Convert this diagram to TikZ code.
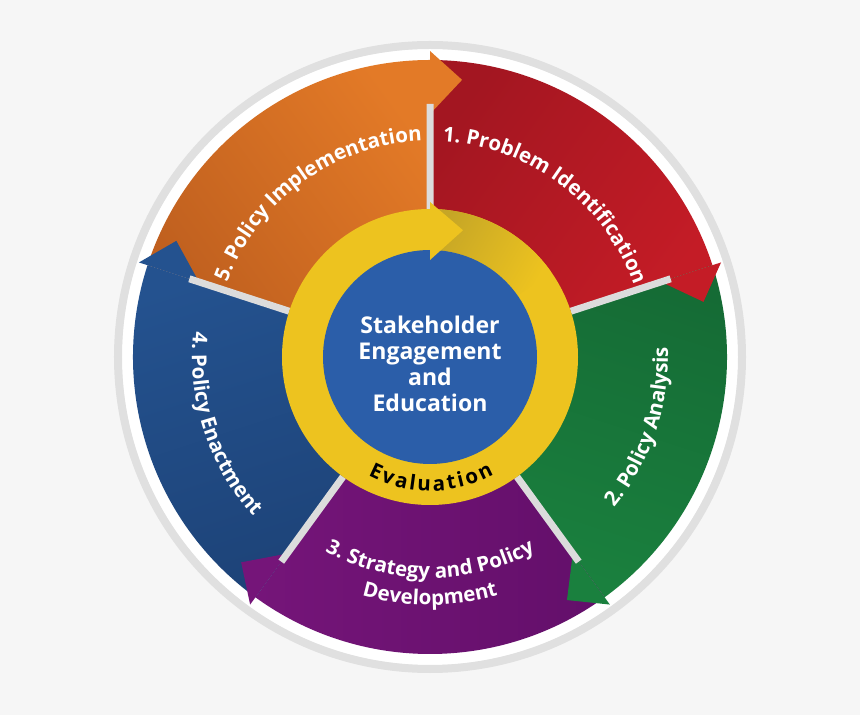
\documentclass[tikz,border=0pt]{standalone}
\usepackage{fontspec}
\setmainfont{Open Sans}
\usetikzlibrary{decorations.text}
\definecolor{bgc}{HTML}{F6F6F6}
\definecolor{ringc}{HTML}{E0E0E0}
\definecolor{sepc}{HTML}{DCDCDC}
\definecolor{orng}{HTML}{E37A27}
\definecolor{orngD}{HTML}{C0601F}
\definecolor{rd}{HTML}{C41C26}
\definecolor{rdD}{HTML}{A31621}
\definecolor{grn}{HTML}{1A803E}
\definecolor{grnD}{HTML}{156B35}
\definecolor{prp}{HTML}{751579}
\definecolor{prpD}{HTML}{630F6A}
\definecolor{blu}{HTML}{24528F}
\definecolor{bluD}{HTML}{1D4378}
\definecolor{ylw}{HTML}{EDC31F}
\definecolor{ylwD}{HTML}{C6A626}
\definecolor{ctrblu}{HTML}{2B5EA9}
\newcommand{\segfont}{\bfseries\fontsize{14.6}{17}\selectfont}
\newcommand{\evalfont}{\bfseries\fontsize{14.6}{16}\selectfont}
\begin{document}
\begin{tikzpicture}[x=0.025cm,y=0.025cm,line join=round,
	declare function={ri = 140; rw = 297; rs = 253; rh = 306; rk = 243; rt = 279; ry = 148; rb = 107;},
	lbl/.style={decorate,decoration={text along path,text align=center,text color=white,text={|\segfont|#1}}},
	ctrtxt/.style={align=center,text=white,font=\bfseries\fontsize{16.4}{18.6}\selectfont}]
	\useasboundingbox (-430,-358) rectangle (430,357);
	\fill[bgc] (-430,-358) rectangle (430,357);
	\fill[white] (0,0) circle[radius=308];
	\draw[ringc,line width=0.2cm] (0,0) circle[radius=312];
	% the five steps
	\shade[top color=orng,bottom color=orngD,shading angle=-54]
	(162:ri) arc[start angle=162,end angle=90,radius=ri] -- (90:rw) arc[start angle=90,end angle=162,radius=rw] -- cycle;
	\shade[top color=rd,bottom color=rdD,shading angle=-126]
	(90:ri) arc[start angle=90,end angle=18,radius=ri] -- (18:rw) arc[start angle=18,end angle=90,radius=rw] -- cycle;
	\shade[top color=grn,bottom color=grnD,shading angle=162]
	(18:ri) arc[start angle=18,end angle=-54,radius=ri] -- (-54:rw) arc[start angle=-54,end angle=18,radius=rw] -- cycle;
	\shade[top color=prp,bottom color=prpD,shading angle=90]
	(-54:ri) arc[start angle=-54,end angle=-126,radius=ri] -- (-126:rw) arc[start angle=-126,end angle=-54,radius=rw] -- cycle;
	\shade[top color=blu,bottom color=bluD,shading angle=18]
	(-126:ri) arc[start angle=-126,end angle=-198,radius=ri] -- (-198:rw) arc[start angle=-198,end angle=-126,radius=rw] -- cycle;
	% arrow heads
	\fill[orng] (90:rk) -- (83.4:rt) -- (90:rh) -- cycle;
	\fill[rd] (18:rk) -- (11.4:rt) -- (18:rh) -- cycle;
	\fill[grn] (-54:rk) -- (-60.6:rt) -- (-54:rh) -- cycle;
	\fill[prp] (-126:rk) -- (-132.6:rt) -- (-126:rh) -- cycle;
	\fill[blu] (162:rk) -- (155.4:rt) -- (162:rh) -- cycle;
	\draw[sepc,line width=0.175cm] (90:ry) -- (90:rs) (18:ry) -- (18:rs) (-54:ry) -- (-54:rs)
	(-126:ry) -- (-126:rs) (162:ry) -- (162:rs);
	% evaluation ring
	\fill[ylw] (0,0) circle[radius=ry];
	\shade[top color=ylw,bottom color=ylwD,shading angle=-120]
	(90:rb) arc[start angle=90,end angle=35,radius=rb] -- (35:ry) arc[start angle=35,end angle=90,radius=ry] -- cycle;
	\fill[ctrblu] (0,0) circle[radius=rb];
	\fill[ylw] (90:97) -- (75.4:131) -- (90:155) -- cycle;
	\node[ctrtxt] (ctr) at (0,-7) {Stakeholder\\Engagement\\and\\Education};
	\path[lbl={1. Problem Identification}] (99:216) arc[start angle=99,end angle=7,radius=216];
	\path[lbl={5. Policy Implementation}] (171:216) arc[start angle=171,end angle=81,radius=216];
	\path[lbl={2. Policy Analysis}] (-65:238) arc[start angle=-65,end angle=28,radius=238];
	\path[lbl={4. Policy Enactment}] (150:238) arc[start angle=150,end angle=246,radius=238];
	\path[lbl={3. Strategy and Policy}] (230:221) arc[start angle=230,end angle=310,radius=221];
	\path[lbl={Development}] (230:248) arc[start angle=230,end angle=310,radius=248];
	\path[decorate,decoration={text along path,text align=fit to path,text={|\evalfont|Evaluation}}]
	(242.5:134) arc[start angle=242.5,end angle=298.5,radius=134];
\end{tikzpicture}
\end{document}
